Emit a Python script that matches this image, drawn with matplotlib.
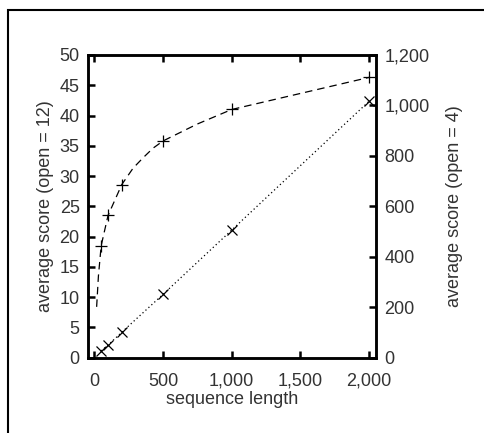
import matplotlib
matplotlib.use("Agg")
import matplotlib.pyplot as plt
from matplotlib.patches import Rectangle
from matplotlib.ticker import FuncFormatter

# sequence lengths with markers
seq_len = [50, 100, 200, 500, 1000, 2000]
# open = 12 (left axis, '+' markers, dashed curve)
score_open12 = [18.5, 23.5, 28.6, 35.8, 41.0, 46.3]
# dashed curve (starts below the first marker)
curve_x = [17, 30, 50, 100, 200, 282, 354, 427, 500, 750, 1000, 2000]
curve_y = [8.4, 13.5, 18.5, 23.5, 28.6, 31.3, 33.0, 34.6, 35.8, 38.6, 41.0, 46.3]
# open = 4 (right axis, 'x' markers, dotted line)
score_open4 = [27, 50, 101, 251, 506, 1017]

plt.rcParams["font.family"] = ["Liberation Sans", "DejaVu Sans"]
plt.rcParams["font.size"] = 13
text_col = "#333333"

fig = plt.figure(figsize=(4.85, 4.33), dpi=100)
ax = fig.add_axes([0.1814, 0.1739, 0.5939, 0.6991])
ax2 = ax.twinx()

ax.plot(curve_x, curve_y, color="black", lw=0.9, ls=(0, (6, 4)))
ax.plot(seq_len, score_open12, ls="none", marker="+", ms=8, mew=0.9, color="black")
ax2.plot(seq_len, score_open4, color="black", lw=0.9, ls=(0, (1, 2.2)),
         marker="x", ms=7, mew=0.9)

ax.set_xlim(-46, 2050)
ax.set_ylim(0, 50)
ax2.set_ylim(0, 1200)
ax.set_xticks([0, 500, 1000, 1500, 2000])
ax.set_yticks(range(0, 51, 5))
ax2.set_yticks(range(0, 1201, 200))

comma = FuncFormatter(lambda v, p: f"{int(v):,}")
ax.xaxis.set_major_formatter(comma)
ax2.yaxis.set_major_formatter(comma)

for a in (ax, ax2):
    for s in a.spines.values():
        s.set_linewidth(1.8)
    a.tick_params(direction="in", length=5, width=1.8, colors="black",
                  labelcolor=text_col, labelsize=13, pad=6)
ax.tick_params(axis="x", top=True, pad=11)

ax.set_xlabel("sequence length", color=text_col, labelpad=1)
ax.set_ylabel("average score (open = 12)", color=text_col, labelpad=4)
ax2.set_ylabel("average score (open = 4)", color=text_col, labelpad=12)

# outer frame, clipped at right and bottom
fig.patches.append(Rectangle((8 / 485, -0.1), 1.2, (433 - 10) / 433 + 0.1,
                             transform=fig.transFigure, fill=False,
                             edgecolor="black", lw=1.5))

fig.savefig("out.png", dpi=100)
